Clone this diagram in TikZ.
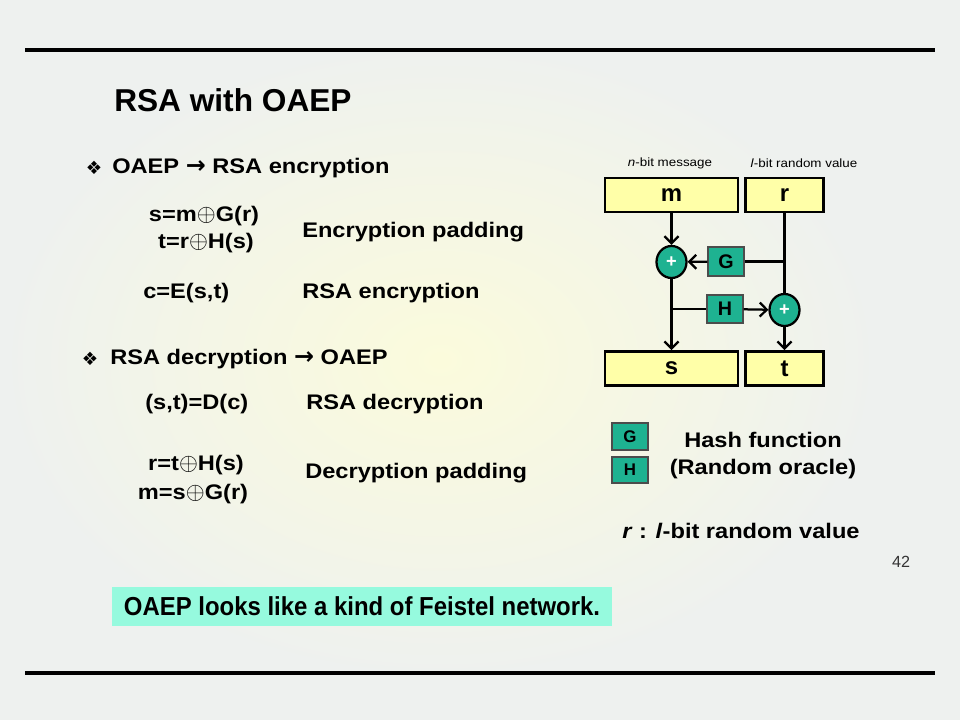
\documentclass[tikz,border=0pt]{standalone}
\usepackage{fontspec}
\setmainfont{Liberation Sans}
\newfontfamily\bodyfont[FakeStretch=1.12]{Liberation Sans}
\newfontfamily\narrowfont[FakeStretch=0.92]{Liberation Sans}
\newfontfamily\dvfont{DejaVu Sans}
\usetikzlibrary{shapes.geometric,arrows.meta}

\definecolor{bgcol}{RGB}{238,241,239}
\definecolor{glow}{RGB}{251,251,220}
\definecolor{pale}{RGB}{255,255,168}
\definecolor{teal}{RGB}{30,178,145}
\definecolor{aqua}{RGB}{150,250,222}

\newcommand{\dia}{{\dvfont\fontsize{13}{13}\selectfont ❖}}
\newcommand{\arr}{{\dvfont\bfseries\fontsize{17}{17}\selectfont →}}
\newcommand{\opl}{{\fontsize{17}{17}\selectfont$\oplus$}}

\tikzset{
  txt/.style={font=\bodyfont\bfseries\fontsize{15}{17}\selectfont, inner sep=0pt},
  tag/.style={font=\bodyfont\fontsize{8.5}{10}\selectfont, inner sep=0pt},
  word/.style={draw, line width=2pt, fill=pale, inner sep=0pt,
    font=\bfseries\fontsize{17}{17}\selectfont},
  hash/.style={draw=black!70, line width=0.8pt, fill=teal, inner sep=0pt,
    minimum width=0.9cm, font=\bfseries\fontsize{14}{14}\selectfont},
  xor/.style={ellipse, draw, line width=1.6pt, fill=teal, inner sep=0pt,
    minimum width=0.75cm, minimum height=0.8cm,
    font=\bfseries\fontsize{13}{13}\selectfont\color{white}},
  wire/.style={line width=1.6pt},
  flow/.style={wire, ->, >={Straight Barb[length=5pt,width=10pt]}}
}

\begin{document}
\begin{tikzpicture}[x=0.025cm, y=-0.025cm]
    % Fond
    \fill[bgcol] (0,0) rectangle (960,720);
    \shade[inner color=glow, outer color=bgcol] (440,360) ellipse (440 and 320);
    \draw[line width=2.2pt] (25,50) -- (935,50);
    \draw[line width=2.2pt] (25,673) -- (935,673);

    % Titre
    \node[anchor=west, inner sep=0pt, font=\bfseries\fontsize{22.5}{24}\selectfont] (title) at (114,100) {RSA with OAEP};

    % Chiffrement
    \node (b1) at (94,168) {\dia};
    \node[txt, anchor=west] (enc) at (112,168) {OAEP \arr{} RSA encryption};
    \node[txt] (f1) at (204,216) {s=m\opl G(r)};
    \node[txt] (f2) at (206,243) {t=r\opl H(s)};
    \node[txt, anchor=west] (pad1) at (302,232) {Encryption padding};
    \node[txt, anchor=west] (f3) at (143,293) {c=E(s,t)};
    \node[txt, anchor=west] (rsa1) at (302,293) {RSA encryption};

    % Dechiffrement
    \node (b2) at (90,359) {\dia};
    \node[txt, anchor=west] (dec) at (110,359) {RSA decryption \arr{} OAEP};
    \node[txt, anchor=west] (f4) at (145,404) {(s,t)=D(c)};
    \node[txt, anchor=west] (rsa2) at (306,404) {RSA decryption};
    \node[txt] (f5) at (196,465) {r=t\opl H(s)};
    \node[txt] (f6) at (193,494) {m=s\opl G(r)};
    \node[txt, anchor=west] (pad2) at (305,473) {Decryption padding};

    % Remarque
    \node[fill=aqua, minimum width=12.5cm, minimum height=0.975cm, inner sep=0pt,
      font=\narrowfont\bfseries\fontsize{18.5}{20}\selectfont] (note) at (362,606.5)
      {OAEP looks like a kind of Feistel network.};
    \node[font=\fontsize{11.5}{12}\selectfont, text=black!80] (page) at (901,562) {42};

    % Schema OAEP
    \node[tag] (lm) at (670,163) {\textit{n}-bit message};
    \node[tag] (lr) at (804,163) {\textit{l}-bit random value};
    \node[word, minimum width=3.325cm, minimum height=0.85cm] (m) at (671.5,195) {m};
    \node[word, minimum width=1.95cm, minimum height=0.85cm] (r) at (784.5,195) {r};
    \node[word, minimum width=3.325cm, minimum height=0.85cm] (s) at (671.5,368.5) {s};
    \node[word, minimum width=1.95cm, minimum height=0.85cm] (t) at (784.5,368.5) {t};
    \node[xor] (x1) at (671.5,262) {+};
    \node[xor] (x2) at (784.5,310) {+};
    \node[hash, minimum height=0.725cm] (G) at (726,261.5) {G};
    \node[hash, minimum height=0.7cm] (H) at (725,309) {H};
    \coordinate (jg) at (x2 |- G);
    \coordinate (jh) at (x1 |- H);

    \draw[flow] (m) -- (x1);
    \draw[flow] (x1) -- (s);
    \draw[wire] (r) -- (x2);
    \draw[flow] (x2) -- (t);
    \draw[wire] (jg) -- (G);
    \draw[flow] (G) -- (x1);
    \draw[wire] (jh) -- (H);
    \draw[flow] (H) -- (x2);

    % Legende
    \node[hash, minimum height=0.675cm, font=\bfseries\fontsize{12}{12}\selectfont] (lg) at (630,436.5) {G};
    \node[hash, minimum height=0.65cm, font=\bfseries\fontsize{12}{12}\selectfont] (lh) at (630,470) {H};
    \node[txt] (hf) at (763,440) {Hash function};
    \node[txt] (ro) at (763,469) {(Random oracle)};
    \node[txt, anchor=west] (rv) at (622,531) {\textit{r} : \textit{l}-bit random value};
\end{tikzpicture}
\end{document}
